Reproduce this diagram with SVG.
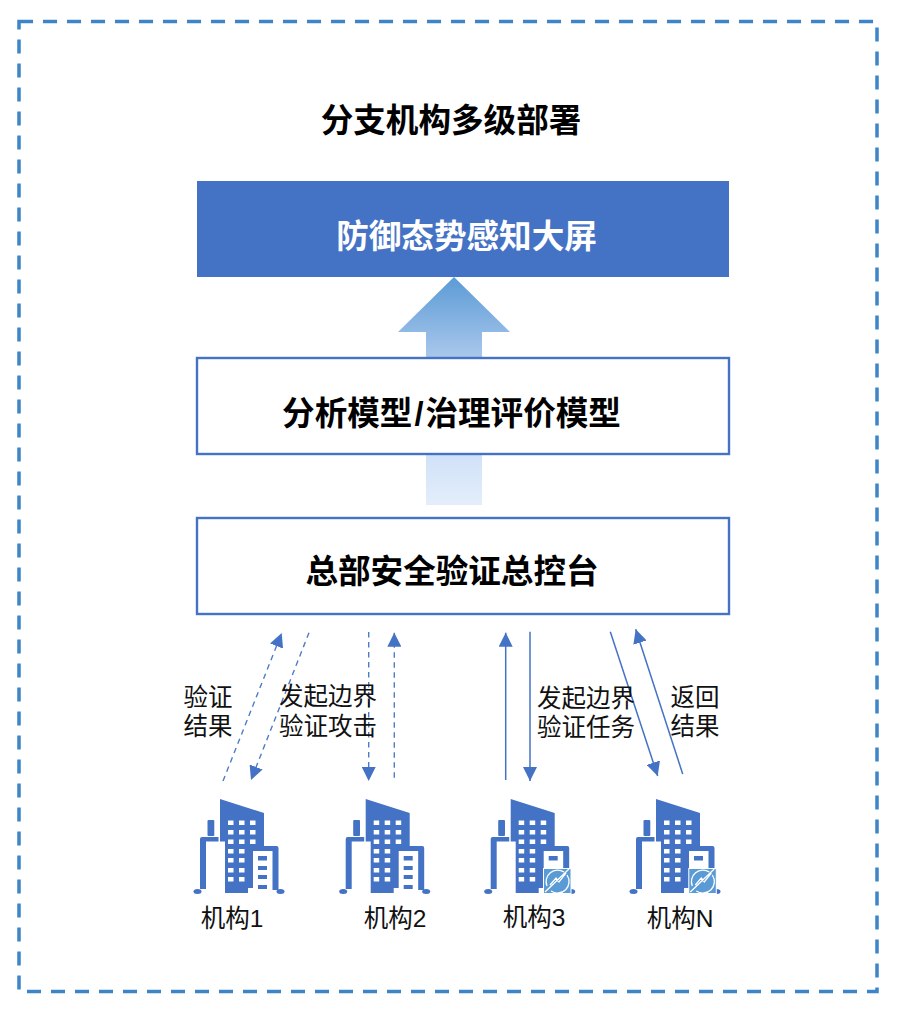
<svg xmlns="http://www.w3.org/2000/svg" xmlns:xlink="http://www.w3.org/1999/xlink" width="900" height="1012" viewBox="0 0 900 1012">
<style>
text{font-family:"Liberation Sans","Noto Sans CJK SC",sans-serif;text-anchor:middle;fill:#111}
.h{font-size:32.600px;font-weight:700;fill:#000}
.l{font-size:24.500px}
.box{fill:#fff;stroke:#4472c4;stroke-width:2.400}
.c{fill:none;stroke:#4472c4;stroke-width:1.500}
.d{stroke:#4f7cc9;stroke-width:1.400;stroke-dasharray:5.500 4.500}
.w{fill:#fff}
.b{fill:#4472c4}
</style>
<defs>
<marker id="ah" markerUnits="userSpaceOnUse" markerWidth="14" markerHeight="14" refX="14" refY="7" orient="auto"><path d="M0 0L14 7L0 14Z" fill="#4472c4"/></marker>
<linearGradient id="g1" gradientUnits="userSpaceOnUse" x1="0" y1="277" x2="0" y2="357"><stop offset="0" stop-color="#5b9bd5"/><stop offset="1" stop-color="#a9c7ec"/></linearGradient>
<linearGradient id="g2" gradientUnits="userSpaceOnUse" x1="0" y1="454" x2="0" y2="505"><stop offset="0" stop-color="#d0e1f8"/><stop offset="1" stop-color="#e4eefb"/></linearGradient>
<symbol id="bld" overflow="visible">
<path class="b" d="M220 799L264 813V846H276.500Q278.500 846 278.500 848V890H272.500V851H253V888H248V893H225V841.500H220Z"/>
<path class="b" d="M202 837H218.500V841.500H206V889H200V839Q200 837 202 837Z"/>
<rect class="b" x="207.500" y="820" width="6.800" height="16" rx="1"/>
<ellipse class="b" cx="197.500" cy="891.500" rx="4" ry="2.500"/>
<ellipse class="b" cx="280.500" cy="891.500" rx="4" ry="2.500"/>
<path class="w" d="M228 820.500h5.500v4.500h-5.500zM239 820.500h5.500v4.500h-5.500zM250 820.500h5.500v4.500h-5.500zM228 830h5.500v4.500h-5.500zM239 830h5.500v4.500h-5.500zM250 830h5.500v4.500h-5.500zM228 839.500h5.500v4.500h-5.500zM239 839.500h5.500v4.500h-5.500zM250 839.500h5.500v4.500h-5.500zM228 849h5.500v4.500h-5.500zM239 849h5.500v4.500h-5.500zM228 858h5.500v4.500h-5.500zM239 858h5.500v4.500h-5.500zM228 868h5.500v4.500h-5.500zM239 868h5.500v4.500h-5.500zM228 877h5.500v4.500h-5.500zM239 877h5.500v4.500h-5.500z"/>
<path class="b" d="M258 856h9v4.500h-9z"/>
</symbol>
<symbol id="floors" overflow="visible"><path class="b" d="M258 866h9v4h-9zM258 875h9v4h-9zM258 885h9v4h-9z"/></symbol>
<symbol id="badge" overflow="visible">
<rect x="543.500" y="868.500" width="27.500" height="25" fill="#5b9bd5" stroke="#fff" stroke-width="1"/>
<path d="M547 886A11.500 11.500 0 0 1 564 872M567 875A11.500 11.500 0 0 1 551 891M545 892L569 869M550 885L556 878L559 882L566 873" fill="none" stroke="#fff" stroke-width="1.300"/>
</symbol>
</defs>
<rect width="900" height="1012" fill="#fff"/>
<rect id="frame" x="19" y="21.500" width="858" height="970" fill="none" stroke="#3d85c6" stroke-width="3.500" stroke-dasharray="14 10"/>
<text id="title" class="h" x="451" y="132">分支机构多级部署</text>
<g id="arrow-top"><path d="M454 277L510 332H482V357H426V332H398Z" fill="url(#g1)"/></g>
<g id="arrow-mid"><rect x="426" y="454" width="56" height="51" fill="url(#g2)"/></g>
<g id="screen"><rect x="197" y="181" width="532" height="96" fill="#4472c4"/><text class="h" x="466.500" y="248" style="fill:#fff">防御态势感知大屏</text></g>
<g id="model"><rect class="box" x="197" y="358" width="532" height="96"/><text class="h" x="451.500" y="425">分析模型<tspan dx="2">/</tspan><tspan dx="2">治理评价模型</tspan></text></g>
<g id="console"><rect class="box" x="197" y="518" width="532" height="96"/><text class="h" x="452" y="583">总部安全验证总控台</text></g>
<g id="connectors">
<path class="c d" marker-end="url(#ah)" d="M223 781L281.700 633"/>
<path class="c d" marker-end="url(#ah)" d="M309 632.700L251 780"/>
<path class="c d" marker-end="url(#ah)" d="M368.700 632V781"/>
<path class="c d" marker-end="url(#ah)" d="M394.300 777.700V632.700"/>
<path class="c" marker-end="url(#ah)" d="M505.700 780V632.700"/>
<path class="c" marker-end="url(#ah)" d="M530 631.700V781"/>
<path class="c" marker-end="url(#ah)" d="M610.300 631.700L657.700 776"/>
<path class="c" marker-end="url(#ah)" d="M682.700 774L635.700 629.300"/>
</g>
<g id="labels">
<text class="l" x="208" y="706">验证</text><text class="l" x="208" y="735">结果</text>
<text class="l" x="328" y="705">发起边界</text><text class="l" x="328" y="735">验证攻击</text>
<text class="l" x="586" y="707">发起边界</text><text class="l" x="586" y="736">验证任务</text>
<text class="l" x="695" y="706">返回</text><text class="l" x="695" y="735">结果</text>
</g>
<g id="org1"><use xlink:href="#bld" href="#bld"/><use xlink:href="#floors" href="#floors"/><text class="l" x="232" y="927">机构1</text></g>
<g id="org2"><use xlink:href="#bld" href="#bld" x="145.700"/><use xlink:href="#floors" href="#floors" x="145.700"/><text class="l" x="395" y="927">机构2</text></g>
<g id="org3"><use xlink:href="#bld" href="#bld" x="290.700"/><use xlink:href="#badge" href="#badge"/><text class="l" x="534" y="926">机构3</text></g>
<g id="orgN"><use xlink:href="#bld" href="#bld" x="436"/><use xlink:href="#badge" href="#badge" x="145.300"/><text class="l" x="680" y="927">机构N</text></g>
</svg>
